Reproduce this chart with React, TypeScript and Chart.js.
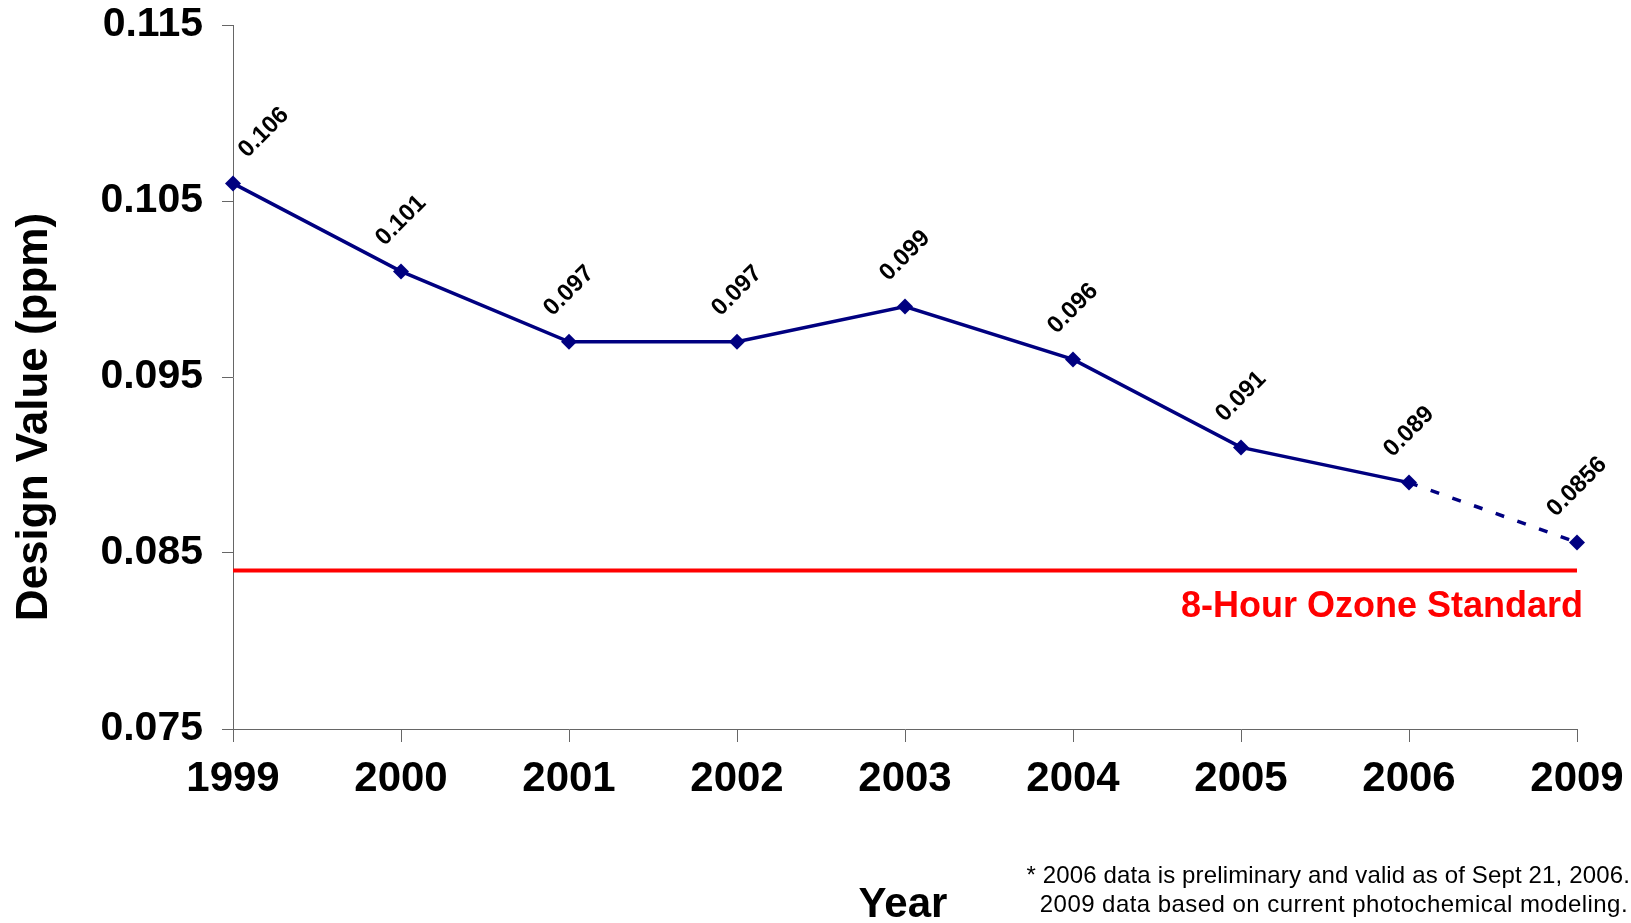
import React, { useEffect, useRef } from "react";
import { Chart, registerables } from "chart.js";

Chart.register(...registerables);

const years = ["1999", "2000", "2001", "2002", "2003", "2004", "2005", "2006", "2009"];
const designValues = [0.106, 0.101, 0.097, 0.097, 0.099, 0.096, 0.091, 0.089, 0.0856];
const valueLabels = ["0.106", "0.101", "0.097", "0.097", "0.099", "0.096", "0.091", "0.089", "0.0856"];
const standardValue = 0.084;
const standardSeries = years.map(() => standardValue);
const yTicks = [0.075, 0.085, 0.095, 0.105, 0.115];
const yTitle = "Design Value (ppm)";
const xTitle = "Year";
const standardLabel = "8-Hour Ozone Standard";
const footnotes = [
  "* 2006 data is preliminary and valid as of Sept 21, 2006.",
  "2009 data based on current photochemical modeling.",
];

const FONT = '"Liberation Sans", Arial, sans-serif';
const NAVY = "#000080";
const AXIS = "#666666";

const textPlugin = {
  id: "textPlugin",
  afterDatasetsDraw(chart: any) {
    const ctx = chart.ctx;
    const area = chart.chartArea;
    const meta = chart.getDatasetMeta(0);
    const yScale = chart.scales.y;
    ctx.save();
    // value labels
    ctx.font = `bold 24px ${FONT}`;
    ctx.fillStyle = "#000";
    ctx.textAlign = "center";
    ctx.textBaseline = "middle";
    meta.data.forEach((pt: any, i: number) => {
      const text = valueLabels[i];
      const w = ctx.measureText(text).width;
      const half = ((w + 16) * Math.SQRT1_2) / 2;
      let cx = pt.x;
      const cy = pt.y - 24 - half;
      if (cx - half < area.left + 4) cx = area.left + 4 + half;
      ctx.save();
      ctx.translate(cx, cy);
      ctx.rotate(-Math.PI / 4);
      ctx.fillText(text, 0, 0);
      ctx.restore();
    });
    // standard label
    const ys = yScale.getPixelForValue(standardValue);
    ctx.font = `bold 36px ${FONT}`;
    ctx.fillStyle = "#FF0000";
    ctx.textAlign = "right";
    ctx.textBaseline = "alphabetic";
    ctx.fillText(standardLabel, area.right + 6, ys + 46);
    ctx.restore();
  },
  afterDraw(chart: any) {
    const ctx = chart.ctx;
    const area = chart.chartArea;
    ctx.save();
    ctx.fillStyle = "#000";
    // y title
    ctx.font = `bold 44px ${FONT}`;
    ctx.textAlign = "center";
    ctx.textBaseline = "alphabetic";
    ctx.save();
    ctx.translate(47, 417);
    ctx.rotate(-Math.PI / 2);
    ctx.fillText(yTitle, 0, 0);
    ctx.restore();
    // x title
    ctx.font = `bold 42px ${FONT}`;
    ctx.fillText(xTitle, (area.left + area.right) / 2 - 2, 917);
    // footnotes
    ctx.font = `24px ${FONT}`;
    ctx.textAlign = "right";
    (ctx as any).letterSpacing = "0.15px";
    ctx.fillText(footnotes[0], 1630, 883);
    (ctx as any).letterSpacing = "0.45px";
    ctx.fillText(footnotes[1], 1628, 912);
    ctx.restore();
  },
};

export default function App() {
  const ref = useRef<HTMLCanvasElement>(null);
  useEffect(() => {
    if (!ref.current) return;
    const chart = new Chart(ref.current, {
      type: "line",
      data: {
        labels: years,
        datasets: [
          {
            data: designValues,
            borderColor: NAVY,
            backgroundColor: NAVY,
            borderWidth: 3.5,
            pointStyle: "rectRot",
            pointRadius: 8,
            pointBorderWidth: 0,
            pointBackgroundColor: NAVY,
            tension: 0,
            segment: {
              borderDash: (c: any) => (c.p1DataIndex === years.length - 1 ? [9, 14] : undefined),
            },
          } as any,
          {
            data: standardSeries,
            borderColor: "#FF0000",
            borderWidth: 4,
            pointRadius: 0,
            tension: 0,
          },
        ],
      },
      options: {
        responsive: false,
        animation: false,
        layout: { padding: { left: 0, top: 25, right: 54, bottom: 0 } },
        plugins: { legend: { display: false }, tooltip: { enabled: false } },
        scales: {
          x: {
            type: "category",
            offset: false,
            grid: { drawOnChartArea: false, drawTicks: true, tickLength: 13, color: AXIS },
            border: { display: true, color: AXIS, width: 1 },
            ticks: {
              color: "#000",
              font: { family: FONT, size: 42, weight: "bold" },
              padding: 12,
              maxRotation: 0,
              autoSkip: false,
            },
            afterFit: (s: any) => {
              s.height = 194;
              s.paddingLeft = 0;
              s.paddingRight = 0;
            },
          },
          y: {
            min: 0.075,
            max: 0.115,
            grid: { drawOnChartArea: false, drawTicks: true, tickLength: 11, color: AXIS },
            border: { display: true, color: AXIS, width: 1 },
            ticks: {
              color: "#000",
              font: { family: FONT, size: 41, weight: "bold" },
              padding: 19,
              callback: (v: any) => Number(v).toFixed(3),
            },
            afterBuildTicks: (axis: any) => {
              axis.ticks = yTicks.map((v) => ({ value: v }));
            },
            afterFit: (s: any) => {
              s.width = 233;
              s.paddingTop = 0;
              s.paddingBottom = 0;
            },
          },
        },
      },
      plugins: [textPlugin],
    });
    return () => chart.destroy();
  }, []);
  return (
    <div style={{ position: "fixed", left: 0, top: 0, width: 1631, height: 923, background: "#fff" }}>
      <canvas ref={ref} width={1631} height={923} />
    </div>
  );
}
